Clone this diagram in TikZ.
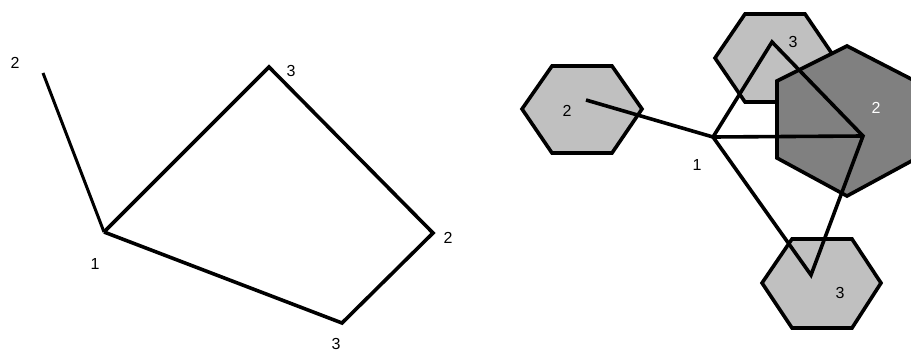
\documentclass[tikz,border=0pt]{standalone}
\usepackage{fontspec}
\setmainfont{Liberation Sans}
\begin{document}
\begin{tikzpicture}[x=1pt,y=-1pt,
  edge/.style={line width=3.6pt,black},
  lighthex/.style={fill={rgb,255:red,192;green,192;blue,192},draw=black,line width=3.6pt},
  darkhex/.style={fill={rgb,255:red,128;green,128;blue,128},draw=black,line width=3.6pt},
  lbl/.style={font=\fontsize{16}{16}\selectfont,text=black,inner sep=0pt},
  wlbl/.style={lbl,text=white}]
\useasboundingbox (0,0) rectangle (911,351);
% ---------- left graph ----------
\coordinate (a2) at (43,73);
\coordinate (a1) at (104,232);
\coordinate (a3t) at (269,67);
\coordinate (a2r) at (433,233);
\coordinate (a3b) at (342,323);
\draw[edge,line width=3pt] (a2) -- (a1);
\draw[edge] (a1) -- (a3t) -- (a2r) -- (a3b) -- (a1);
\node[lbl] (la2) at (15,63) {2};
\node[lbl] (la1) at (95,264) {1};
\node[lbl] (la3t) at (291,71) {3};
\node[lbl] (la2r) at (448,238) {2};
\node[lbl] (la3b) at (336,344) {3};
% ---------- right graph ----------
\begin{scope}
\clip (0,0) rectangle (911,351);
\draw[lighthex] (522,109) -- ++(30,-43) -- ++(60,0) -- ++(30,43) -- ++(-30,44) -- ++(-60,0) -- cycle;
\draw[lighthex] (715,58) -- ++(30,-44) -- ++(60,0) -- ++(30,44) -- ++(-30,44) -- ++(-60,0) -- cycle;
\draw[lighthex] (762,283) -- ++(30,-44) -- ++(60,0) -- ++(29,44) -- ++(-29,45) -- ++(-60,0) -- cycle;
\draw[darkhex] (847,46) -- ++(70,36) -- ++(0,76) -- ++(-70,38) -- ++(-70,-38) -- ++(0,-77) -- cycle;
\end{scope}
\coordinate (b2) at (586,100);
\coordinate (b1) at (713,137);
\coordinate (b3t) at (772,42);
\coordinate (b2d) at (863,136);
\coordinate (b3b) at (811,275);
\draw[edge] (b2) -- (b1);
\draw[edge] (b1) -- (b3t) -- (b2d) -- (b3b) -- (b1);
\draw[edge] (b1) -- (b2d);
\node[lbl] (lb2) at (567,111) {2};
\node[lbl] (lb1) at (697,165) {1};
\node[lbl] (lb3t) at (793,42) {3};
\node[wlbl] (lb2d) at (876,108) {2};
\node[lbl] (lb3b) at (840,293) {3};
\end{tikzpicture}
\end{document}
